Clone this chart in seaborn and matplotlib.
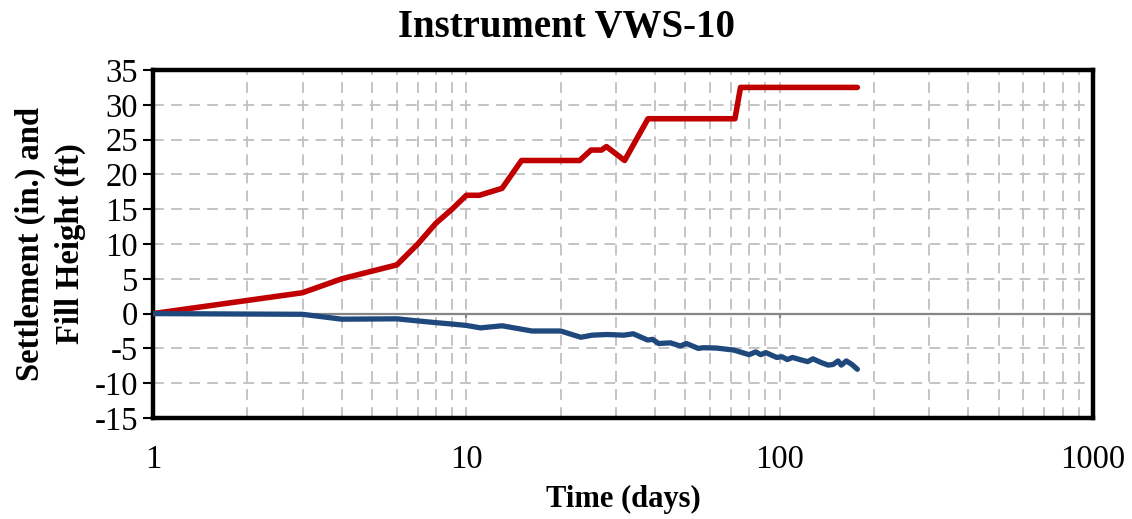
import numpy as np
import pandas as pd
import seaborn as sns
import matplotlib.pyplot as plt
from matplotlib.ticker import LogLocator, FixedLocator, NullFormatter

# fill height (ft)
fill_days = [1, 3, 4, 6, 7, 8, 9, 10, 11, 13, 15, 23, 25, 27, 28, 32, 38, 72, 75, 177]
fill_ft = [0, 3, 5, 7, 10, 13, 15, 17, 17, 18, 22, 22, 23.5, 23.5, 24, 22, 28, 28, 32.5, 32.5]

# settlement (in.)
sett_days = [1, 3, 4, 6, 7, 8, 9, 10, 11.1, 13, 16.2, 20, 23.2, 25.2, 28.1, 31.8, 34.1,
             37.9, 39.3, 41.1, 44.8, 48.2, 50.4, 55, 57.1, 63, 71.5, 79.9, 83.9, 87,
             90.3, 97.9, 101.8, 105.8, 109.9, 117, 122.9, 127.7, 136, 142.8, 148.2,
             153.6, 157.3, 163.3, 170, 177]
sett_in = [0, -0.1, -0.8, -0.75, -1.05, -1.3, -1.5, -1.7, -2.05, -1.75, -2.5, -2.5,
           -3.4, -3.1, -3.0, -3.1, -2.9, -3.8, -3.7, -4.3, -4.2, -4.65, -4.3, -5.0,
           -4.9, -4.95, -5.25, -5.9, -5.5, -5.9, -5.6, -6.3, -6.2, -6.6, -6.3, -6.65,
           -6.9, -6.5, -7.05, -7.4, -7.3, -6.8, -7.4, -6.8, -7.3, -8.0]

x_major = [1, 10, 100, 1000]
y_ticks = list(range(-15, 36, 5))

fill = pd.DataFrame({"day": fill_days, "value": fill_ft})
sett = pd.DataFrame({"day": sett_days, "value": sett_in})

sns.set_style("white")
plt.rcParams['font.family'] = ['Liberation Serif', 'DejaVu Serif']
plt.rcParams['axes.unicode_minus'] = False
plt.rcParams['text.color'] = 'black'
plt.rcParams['axes.labelcolor'] = 'black'
plt.rcParams['xtick.color'] = 'black'
plt.rcParams['ytick.color'] = 'black'

fig = plt.figure(figsize=(11.32, 5.19), dpi=100)
ax = fig.add_axes([0.1352, 0.1946, 0.8303, 0.6705])

ax.set_xscale("log")
ax.set_xlim(1, 1000)
ax.set_ylim(-15, 35)

# grid
ax.xaxis.set_major_locator(FixedLocator(x_major))
ax.xaxis.set_minor_locator(LogLocator(base=10, subs=np.arange(2, 10)))
ax.xaxis.set_minor_formatter(NullFormatter())
ax.set_xticklabels([str(v) for v in x_major])
ax.set_yticks(y_ticks)
ax.grid(True, which="both", axis="x", color="#BFBFBF", ls=(0, (6, 4)), lw=1.3)
ax.grid(True, which="major", axis="y", color="#BFBFBF", ls=(0, (6, 4)), lw=1.3)
ax.axhline(0, color="#868686", lw=1.6, zorder=1.5)
ax.vlines(x_major, -0.7, 0, color="#868686", lw=1.6, zorder=1.5)

sns.lineplot(data=fill, x="day", y="value", ax=ax, color="#C00000", lw=4.0,
             solid_capstyle="round", zorder=3)
sns.lineplot(data=sett, x="day", y="value", ax=ax, color="#1F497D", lw=3.8,
             solid_capstyle="round", zorder=3)

for s in ax.spines.values():
    s.set_color("black")
    s.set_linewidth(3.2)
    s.set_visible(True)

ax.tick_params(axis="x", which="both", length=0, pad=19, labelsize=23.5)
ax.tick_params(axis="y", which="major", direction="out", length=7, width=1.5,
               color="black", left=True, labelsize=23.5, pad=4)

fig.suptitle("Instrument VWS-10", x=0.5, y=0.982, fontsize=28, fontweight="bold",
             va="top")
ax.set_xlabel("Time (days)", fontsize=22, fontweight="bold", labelpad=7)
ax.set_ylabel("Settlement (in.) and\nFill Height (ft)", fontsize=23.5,
              fontweight="bold", labelpad=6, linespacing=1.35)

fig.savefig("out.png", dpi=100)
